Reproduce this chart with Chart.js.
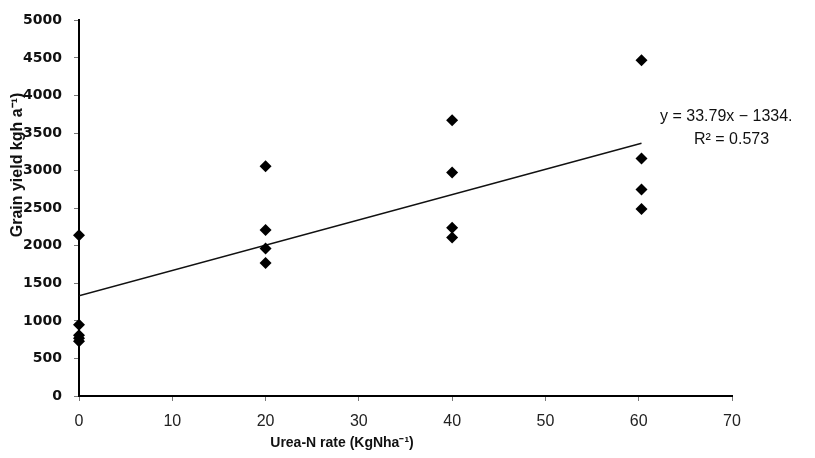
<!DOCTYPE html>
<html>
<head>
<meta charset="utf-8">
<script src="https://cdn.jsdelivr.net/npm/chart.js@4/dist/chart.umd.min.js"></script>
<style>
  body { margin: 0; background: #fff; }
  #wrap { width: 815px; height: 458px; }
</style>
</head>
<body>
<div id="wrap"><canvas id="c" width="815" height="458"></canvas></div>
<script>
// observations: urea-N rate vs grain yield
const rateX = [0, 0, 0, 0, 0, 20, 20, 20, 20, 40, 40, 40, 40, 60.3, 60.3, 60.3, 60.3];
const yieldY = [2140, 950, 810, 770, 730, 3060, 2210, 1965, 1770, 3670, 2975, 2240, 2110, 4470, 3160, 2750, 2490];

// fitted line ends as drawn
const trendX = [0, 60.3];
const trendY = [1334, 3365];

const xTicks = [0, 10, 20, 30, 40, 50, 60, 70];
const yTicks = [0, 500, 1000, 1500, 2000, 2500, 3000, 3500, 4000, 4500, 5000];

const eqText = 'y = 33.79x \u2212 1334.';
const r2Text = 'R\u00b2 = 0.573';
const xTitle = 'Urea-N rate (KgNha\u207b\u00b9)';
const yTitle = 'Grain yield kgh a\u207b\u00b9)';

const pts = rateX.map((x, i) => ({ x: x, y: yieldY[i] }));
const trend = trendX.map((x, i) => ({ x: x, y: trendY[i] }));

const labels = {
    id: 'labels',
    afterDraw(chart) {
        const ctx = chart.ctx;
        ctx.save();
        ctx.fillStyle = '#111';
        ctx.textBaseline = 'middle';
        ctx.textAlign = 'center';
        ctx.font = '600 14px "Liberation Sans", Arial, sans-serif';
        ctx.fillText(xTitle, 342, 443);

        ctx.font = '16px "Liberation Sans", Arial, sans-serif';
        ctx.textAlign = 'left';
        ctx.fillText(eqText, 660, 117);
        ctx.fillText(r2Text, 694, 140);

        ctx.translate(18, 165);
        ctx.rotate(-Math.PI / 2);
        ctx.textAlign = 'center';
        ctx.font = 'bold 16px "Liberation Sans", Arial, sans-serif';
        ctx.fillText(yTitle, 0, 0);
        ctx.restore();
    }
};

new Chart(document.getElementById('c'), {
    type: 'scatter',
    data: {
        datasets: [{
            data: pts,
            pointStyle: 'rectRot',
            pointRadius: 6,
            backgroundColor: '#000',
            borderColor: '#000',
            borderWidth: 0,
            clip: false
        }, {
            type: 'line',
            data: trend,
            borderColor: '#111',
            borderWidth: 1.5,
            pointRadius: 0,
            fill: false
        }]
    },
    options: {
        responsive: false,
        animation: false,
        layout: { padding: { top: 15, right: 83, left: 0, bottom: 0 } },
        plugins: { legend: { display: false }, tooltip: { enabled: false } },
        scales: {
            x: {
                type: 'linear',
                min: 0,
                max: 70,
                afterBuildTicks: s => { s.ticks = xTicks.map(v => ({ value: v })); },
                afterFit: s => { s.height = 62; },
                border: { color: '#000', width: 2 },
                grid: { drawOnChartArea: false, color: '#777', tickLength: 5 },
                ticks: {
                    color: '#222',
                    padding: 11,
                    font: { family: '"Liberation Sans", Arial, sans-serif', size: 16 }
                }
            },
            y: {
                min: 0,
                max: 5000,
                afterBuildTicks: s => { s.ticks = yTicks.map(v => ({ value: v })); },
                afterFit: s => { s.width = 79; },
                border: { color: '#000', width: 2 },
                grid: { drawOnChartArea: false, color: '#777', tickLength: 5 },
                ticks: {
                    color: '#111',
                    padding: 12,
                    callback: v => String(v),
                    font: { family: '"DejaVu Sans", sans-serif', size: 14, weight: 'bold' }
                }
            }
        }
    },
    plugins: [labels]
});
</script>
</body>
</html>
